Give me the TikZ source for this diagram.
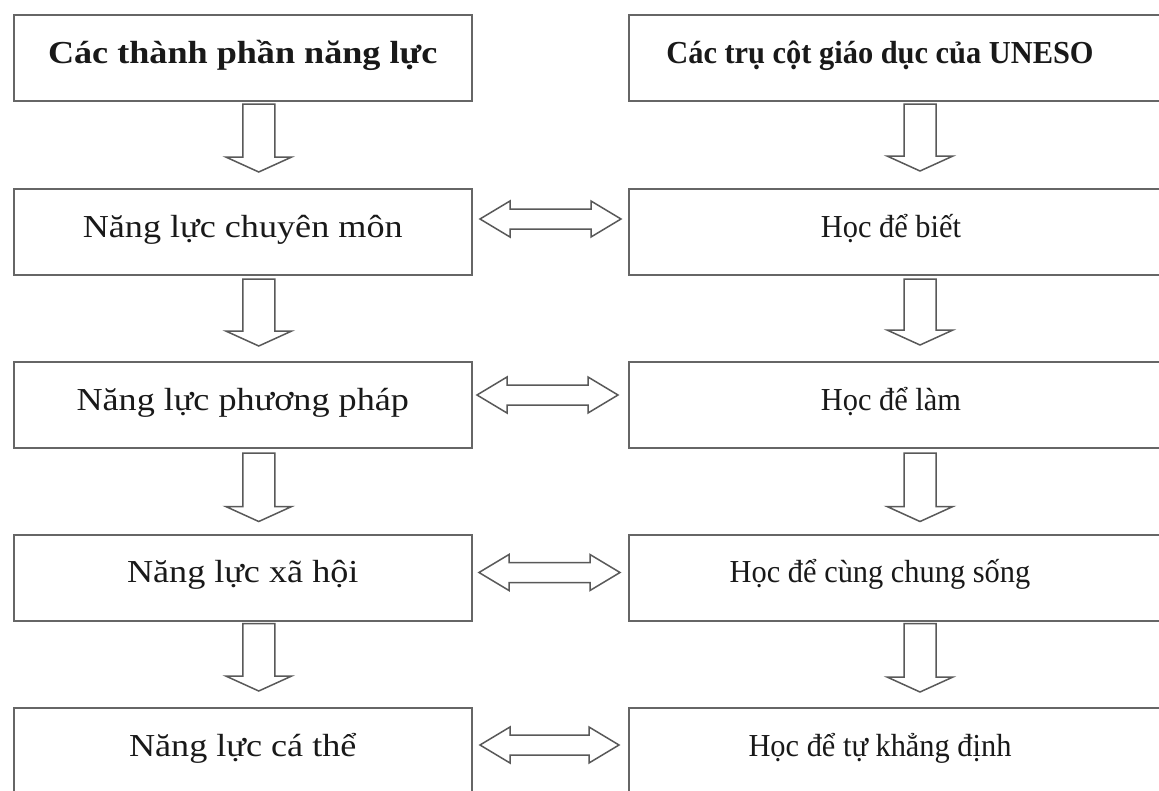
\documentclass[tikz,border=0pt]{standalone}
\usepackage{fontspec}
\setmainfont{Liberation Serif}
\newfontfamily\lfont{Liberation Serif}[FakeStretch=1.13]
\newfontfamily\rfont{Liberation Serif}[FakeStretch=0.95]
\usetikzlibrary{calc}
\tikzset{
  box/.style={draw=black!60, line width=2pt, minimum height=86pt, inner sep=0pt},
  lbox/.style={box, minimum width=458.5pt},
  rbox/.style={box, minimum width=582pt},
  ltxt/.style={anchor=base, inner sep=0pt, text=black!90, font=\lfont\fontsize{32}{36}\selectfont},
  rtxt/.style={anchor=base, inner sep=0pt, text=black!90, font=\rfont\fontsize{32}{36}\selectfont},
  blockarr/.style={draw=black!65, line width=1.5pt, line join=miter}
}
% down block arrow: #1 top-centre of shaft, #2 tip
\newcommand\dnarrow[2]{%
  \draw[blockarr] let \p1=(#1), \p2=(#2) in
    (\x1-16pt,\y1) -- (\x1+16pt,\y1) -- (\x1+16pt,\y2+15pt) -- (\x1+33pt,\y2+15pt)
    -- (\x1,\y2) -- (\x1-33pt,\y2+15pt) -- (\x1-16pt,\y2+15pt) -- cycle;}
% double horizontal block arrow: #1 left tip, #2 right tip
\newcommand\lrarrow[2]{%
  \draw[blockarr] let \p1=(#1), \p2=(#2) in
    (\x1,\y1) -- (\x1+30pt,\y1+18pt) -- (\x1+30pt,\y1+10pt) -- (\x2-30pt,\y1+10pt)
    -- (\x2-30pt,\y1+18pt) -- (\x2,\y1) -- (\x2-30pt,\y1-18pt) -- (\x2-30pt,\y1-10pt)
    -- (\x1+30pt,\y1-10pt) -- (\x1+30pt,\y1-18pt) -- cycle;}
\begin{document}
\begin{tikzpicture}[x=1pt,y=-1pt]
\useasboundingbox (0,0) rectangle (1159,790);
\clip (0,0) rectangle (1159,790);
\fill[white] (0,0) rectangle (1159,790);

% left column boxes
\node[lbox] (L1) at (242.75,58) {};
\node[lbox] (L2) at (242.75,232) {};
\node[lbox] (L3) at (242.75,405) {};
\node[lbox] (L4) at (242.75,577.5) {};
\node[lbox] (L5) at (242.75,751) {};
% right column boxes
\node[rbox] (R1) at (920,58) {};
\node[rbox] (R2) at (920,232) {};
\node[rbox] (R3) at (920,405) {};
\node[rbox] (R4) at (920,577.5) {};
\node[rbox] (R5) at (920,751) {};

% texts
\node[ltxt] (L1t) at (242.75,63) {\bfseries Các thành phần năng lực};
\node[ltxt] (L2t) at (242.75,237) {Năng lực chuyên môn};
\node[ltxt] (L3t) at (242.75,410) {Năng lực phương pháp};
\node[ltxt] (L4t) at (242.75,582) {Năng lực xã hội};
\node[ltxt] (L5t) at (242.75,756) {Năng lực cá thể};
\node[rtxt] (R1t) at (880,63) {\bfseries Các trụ cột giáo dục của UNESO};
\node[rtxt] (R2t) at (891,237) {Học để biết};
\node[rtxt] (R3t) at (891,410) {Học để làm};
\node[rtxt] (R4t) at (880,582) {Học để cùng chung sống};
\node[rtxt] (R5t) at (880,756) {Học để tự khẳng định};

% down arrows, left
\dnarrow{$(L1.south)+(16,2)$}{$(L2.north)+(16,-16)$}
\dnarrow{$(L2.south)+(16,3)$}{$(L3.north)+(16,-15)$}
\dnarrow{$(L3.south)+(16,4)$}{$(L4.north)+(16,-12)$}
\dnarrow{$(L4.south)+(16,2)$}{$(L5.north)+(16,-16)$}
% down arrows, right
\dnarrow{$(R1.south)+(0,2)$}{$(R2.north)+(0,-17)$}
\dnarrow{$(R2.south)+(0,3)$}{$(R3.north)+(0,-16)$}
\dnarrow{$(R3.south)+(0,4)$}{$(R4.north)+(0,-12)$}
\dnarrow{$(R4.south)+(0,2)$}{$(R5.north)+(0,-15)$}

% double arrows
\lrarrow{$(L2.east)+(7,-13)$}{$(R2.west)+(-7,-13)$}
\lrarrow{$(L3.east)+(4,-10)$}{$(R3.west)+(-10,-10)$}
\lrarrow{$(L4.east)+(6,-5)$}{$(R4.west)+(-8,-5)$}
\lrarrow{$(L5.east)+(7,-6)$}{$(R5.west)+(-9,-6)$}
\end{tikzpicture}
\end{document}
